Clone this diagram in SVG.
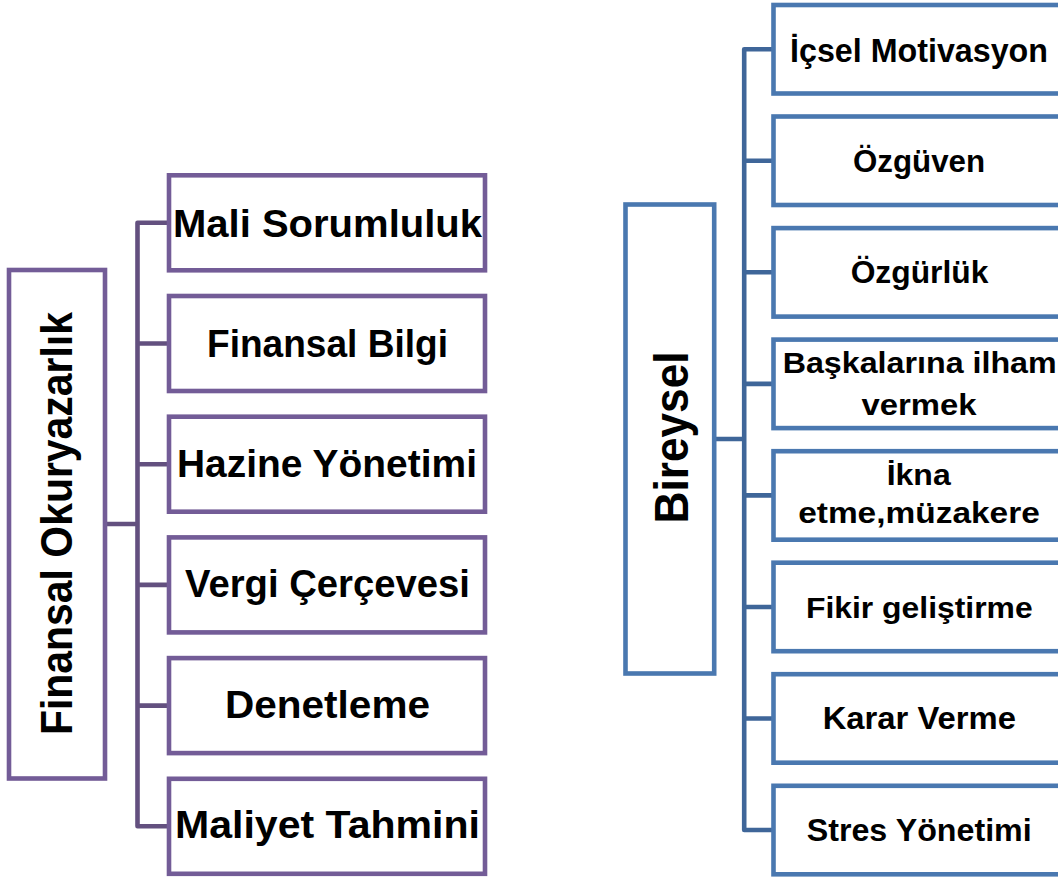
<svg xmlns="http://www.w3.org/2000/svg" width="1058" height="882" viewBox="0 0 1058 882">
<defs>
<style>
.bg{fill:#ffffff}
.pbox{fill:#ffffff;stroke:#735C97;stroke-width:4.6}
.bbox{fill:#ffffff;stroke:#4A78B0;stroke-width:4.6}
.pcon{fill:none;stroke:#63507F;stroke-width:4.6;stroke-linejoin:round}
.bcon{fill:none;stroke:#3F6699;stroke-width:4.6;stroke-linejoin:round}
text{font-family:"Liberation Sans",Arial,sans-serif;font-weight:bold;fill:#000000;text-anchor:middle}
.lt{font-size:39px}
.rt{font-size:30px}
</style>
</defs>
<rect class="bg" x="0" y="0" width="1058" height="882"/>

<g id="connectors">
  <path class="pcon" d="M105,524 H137.5 M169,222.8 H137.5 V826.3 H169 M137.5,343.5 H169 M137.5,464.2 H169 M137.5,584.9 H169 M137.5,705.6 H169"/>
  <path class="bcon" d="M714,439 H744.2 M773.5,49.25 H744.2 V830 H773.5 M744.2,160.8 H773.5 M744.2,272.3 H773.5 M744.2,383.9 H773.5 M744.2,495.4 H773.5 M744.2,607 H773.5 M744.2,718.5 H773.5"/>
</g>

<g id="finansal-okuryazarlik">
  <rect class="pbox" x="9" y="270" width="96" height="508.5"/>
  <text transform="translate(72,523.5) rotate(-90)" x="0" y="0" style="font-size:44px" textLength="423" lengthAdjust="spacingAndGlyphs">Finansal Okuryazarlık</text>
</g>
<g id="mali-sorumluluk">
  <rect class="pbox" x="169" y="175.3" width="316" height="95"/>
  <text class="lt" x="327.5" y="236.7" textLength="309" lengthAdjust="spacingAndGlyphs">Mali Sorumluluk</text>
</g>
<g id="finansal-bilgi">
  <rect class="pbox" x="169" y="296" width="316" height="95"/>
  <text class="lt" x="327.5" y="356.7" textLength="241" lengthAdjust="spacingAndGlyphs">Finansal Bilgi</text>
</g>
<g id="hazine-yonetimi">
  <rect class="pbox" x="169" y="416.7" width="316" height="95"/>
  <text class="lt" x="327" y="476.5" textLength="300" lengthAdjust="spacingAndGlyphs">Hazine Yönetimi</text>
</g>
<g id="vergi-cercevesi">
  <rect class="pbox" x="169" y="537.4" width="316" height="95"/>
  <text class="lt" x="327.5" y="596.7" textLength="285" lengthAdjust="spacingAndGlyphs">Vergi Çerçevesi</text>
</g>
<g id="denetleme">
  <rect class="pbox" x="169" y="658.1" width="316" height="95"/>
  <text class="lt" x="327.5" y="718.3" textLength="205" lengthAdjust="spacingAndGlyphs">Denetleme</text>
</g>
<g id="maliyet-tahmini">
  <rect class="pbox" x="169" y="778.8" width="316" height="95"/>
  <text class="lt" x="327.5" y="838" textLength="305" lengthAdjust="spacingAndGlyphs">Maliyet Tahmini</text>
</g>

<g id="bireysel">
  <rect class="bbox" x="625.5" y="204.5" width="88.7" height="469"/>
  <text transform="translate(688,437.5) rotate(-90)" x="0" y="0" style="font-size:48px" textLength="172" lengthAdjust="spacingAndGlyphs">Bireysel</text>
</g>
<g id="icsel-motivasyon">
  <rect class="bbox" x="773.5" y="5" width="291" height="88.5"/>
  <text class="rt" style="font-size:33px" x="919" y="61.7" textLength="258" lengthAdjust="spacingAndGlyphs">İçsel Motivasyon</text>
</g>
<g id="ozguven">
  <rect class="bbox" x="773.5" y="116.5" width="291" height="88.5"/>
  <text class="rt" style="font-size:31px" x="919" y="171.7" textLength="132" lengthAdjust="spacingAndGlyphs">Özgüven</text>
</g>
<g id="ozgurluk">
  <rect class="bbox" x="773.5" y="228.1" width="291" height="88.5"/>
  <text class="rt" style="font-size:31px" x="919.5" y="283.3" textLength="137.7" lengthAdjust="spacingAndGlyphs">Özgürlük</text>
</g>
<g id="baskalarina-ilham-vermek">
  <rect class="bbox" x="773.5" y="339.6" width="291" height="88.5"/>
  <text class="rt" x="919.7" y="373.3" textLength="274" lengthAdjust="spacingAndGlyphs">Başkalarına ilham</text>
  <text class="rt" x="919" y="415" textLength="115" lengthAdjust="spacingAndGlyphs">vermek</text>
</g>
<g id="ikna-etme-muzakere">
  <rect class="bbox" x="773.5" y="451.2" width="291" height="88.5"/>
  <text class="rt" x="918.7" y="485" textLength="64" lengthAdjust="spacingAndGlyphs">İkna</text>
  <text class="rt" x="919" y="523.3" textLength="241.7" lengthAdjust="spacingAndGlyphs">etme,müzakere</text>
</g>
<g id="fikir-gelistirme">
  <rect class="bbox" x="773.5" y="562.7" width="291" height="88.5"/>
  <text class="rt" x="919.3" y="618.3" textLength="226.7" lengthAdjust="spacingAndGlyphs">Fikir geliştirme</text>
</g>
<g id="karar-verme">
  <rect class="bbox" x="773.5" y="674.2" width="291" height="88.5"/>
  <text class="rt" style="font-size:31px" x="919.3" y="729.3" textLength="193.3" lengthAdjust="spacingAndGlyphs">Karar Verme</text>
</g>
<g id="stres-yonetimi">
  <rect class="bbox" x="773.5" y="785.8" width="291" height="88.5"/>
  <text class="rt" style="font-size:31px" x="919.2" y="840.7" textLength="225" lengthAdjust="spacingAndGlyphs">Stres Yönetimi</text>
</g>
</svg>
